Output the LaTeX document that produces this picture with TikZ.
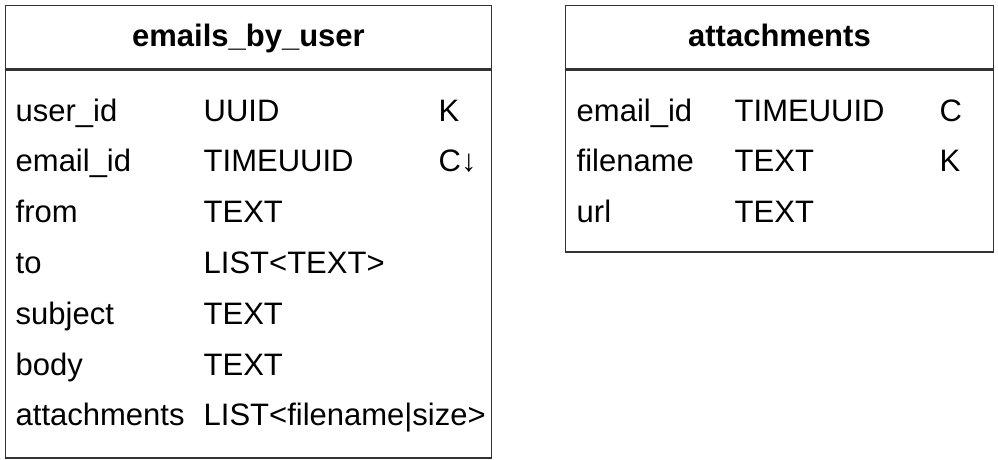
\documentclass[tikz,border=0pt]{standalone}
\usepackage{fontspec}
\setmainfont{Liberation Sans}
\usepackage{tikz}
\usetikzlibrary{positioning}

\begin{document}
\begin{tikzpicture}[x=1pt, y=-1pt,
    tablehead/.style={draw=black!80, line width=1.4pt, inner sep=0pt,
      font=\bfseries\fontsize{31}{36}\selectfont, text height=22pt, text depth=3.5pt},
    tablebody/.style={draw=black!80, line width=1.4pt, inner sep=0pt},
    field/.style={anchor=base west, inner sep=0pt, font=\fontsize{31}{36}\selectfont}]
      \useasboundingbox (0,0) rectangle (998,460);

      % Table 1
      \node[tablehead, minimum width=486.5pt, minimum height=63.5pt, anchor=north west] (usershead) at (4.5,5) {emails\_by\_user};
      \node[tablebody, minimum width=486.5pt, minimum height=387.5pt, anchor=north west] (usersbody) at (usershead.south west) {};
      \foreach \name/\type/\key [count=\i from 0] in {user\_id/UUID/K, email\_id/TIMEUUID/C↓, from/TEXT/, to/LIST<TEXT>/, subject/TEXT/, body/TEXT/, attachments/LIST<filename|size>/} {
        \node[field] (usersname\i) at (15.5,121+50.8*\i) {\name};
        \node[field] (userstype\i) at (203.5,121+50.8*\i) {\type};
        \node[field] (userskey\i) at (438.5,121+50.8*\i) {\key};
      }

      % Table 2
      \node[tablehead, minimum width=428.5pt, minimum height=63.5pt, anchor=north west] (attachhead) at (564.5,5) {attachments};
      \node[tablebody, minimum width=428.5pt, minimum height=181.5pt, anchor=north west] (attachbody) at (attachhead.south west) {};
      \foreach \name/\type/\key [count=\i from 0] in {email\_id/TIMEUUID/C, filename/TEXT/K, url/TEXT/} {
        \node[field] (attachname\i) at (576.5,121+50.8*\i) {\name};
        \node[field] (attachtype\i) at (734.5,121+50.8*\i) {\type};
        \node[field] (attachkey\i) at (939.5,121+50.8*\i) {\key};
      }
\end{tikzpicture}
\end{document}
